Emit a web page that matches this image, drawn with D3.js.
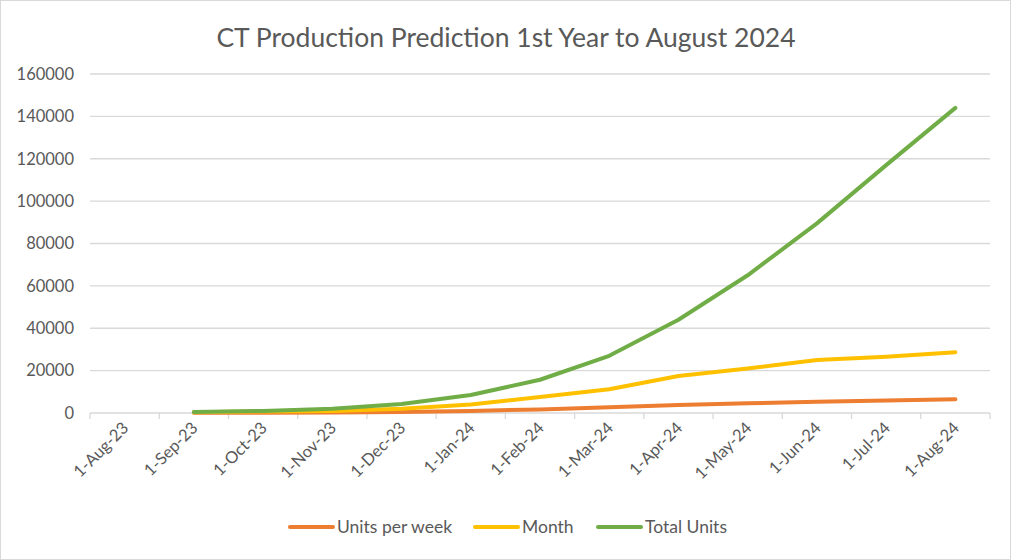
<!DOCTYPE html>
<html>
<head>
<meta charset="utf-8">
<script src="https://cdn.jsdelivr.net/npm/d3@7"></script>
<style>
  body { margin: 0; background: #fff; }
  text { font-family: Lato, "Open Sans", sans-serif; fill: #595959; }
</style>
</head>
<body>
<div id="chart"></div>
<script>
// chart size
const width = 1011,
  height = 560,
  margin = { top: 74, bottom: 147, left: 90, right: 21 };

// data
const months = ["1-Aug-23", "1-Sep-23", "1-Oct-23", "1-Nov-23", "1-Dec-23", "1-Jan-24",
  "1-Feb-24", "1-Mar-24", "1-Apr-24", "1-May-24", "1-Jun-24", "1-Jul-24", "1-Aug-24"];
const unitsPerWeek = [null, 100, 150, 250, 500, 1000, 1700, 2700, 3800, 4600, 5300, 5900, 6500];
const monthUnits = [null, 400, 700, 1000, 2000, 4000, 7600, 11200, 17500, 21000, 25000, 26600, 28700];
const totalUnits = [null, 500, 1000, 2000, 4200, 8500, 15700, 27000, 44000, 65000, 89500, 117000, 144000];
const yTicks = [0, 20000, 40000, 60000, 80000, 100000, 120000, 140000, 160000];

const seriesNames = ["Units per week", "Month", "Total Units"];
const seriesColors = ["#ED7D31", "#FFC000", "#70AD47"];
const series = [unitsPerWeek, monthUnits, totalUnits];

const svg = d3.select("#chart")
  .append("svg")
  .attr("width", width)
  .attr("height", height);

// chart border
svg.append("rect")
  .attr("x", 0.5).attr("y", 0.5)
  .attr("width", width - 1).attr("height", height - 1)
  .attr("fill", "#fff")
  .attr("stroke", "#d9d9d9");

const xScale = d3.scaleBand()
  .domain(months)
  .range([margin.left, width - margin.right]);

const yScale = d3.scaleLinear()
  .domain([0, 160000])
  .range([height - margin.bottom, margin.top]);

// gridlines
svg.append("g")
  .selectAll("line")
  .data(yTicks)
  .join("line")
  .attr("x1", margin.left)
  .attr("x2", width - margin.right)
  .attr("y1", d => yScale(d))
  .attr("y2", d => yScale(d))
  .attr("stroke", "#d9d9d9")
  .attr("stroke-width", 1.3);

// y labels
svg.append("g")
  .selectAll("text")
  .data(yTicks)
  .join("text")
  .attr("x", 74)
  .attr("y", d => yScale(d))
  .attr("dy", "0.35em")
  .attr("text-anchor", "end")
  .attr("font-size", 16.5)
  .text(d => d);

// x axis ticks at band edges
const tickPos = months.map(m => xScale(m)).concat([width - margin.right]);
svg.append("g")
  .selectAll("line")
  .data(tickPos)
  .join("line")
  .attr("x1", d => d).attr("x2", d => d)
  .attr("y1", yScale(0))
  .attr("y2", yScale(0) + 6)
  .attr("stroke", "#d9d9d9")
  .attr("stroke-width", 1.3);

// x labels, rotated
svg.append("g")
  .selectAll("text")
  .data(months)
  .join("text")
  .attr("text-anchor", "end")
  .attr("font-size", 16.5)
  .attr("transform", d => `translate(${xScale(d) + xScale.bandwidth() / 2 + 5},${yScale(0) + 16})rotate(-45)`)
  .text(d => d);

// lines
const lineFunction = d3.line()
  .defined(d => d != null)
  .x((d, i) => xScale(months[i]) + xScale.bandwidth() / 2)
  .y(d => yScale(d));

svg.append("g")
  .selectAll("path")
  .data(series)
  .join("path")
  .attr("d", d => lineFunction(d))
  .attr("fill", "none")
  .attr("stroke", (d, i) => seriesColors[i])
  .attr("stroke-width", 4)
  .attr("stroke-linecap", "round")
  .attr("stroke-linejoin", "round");

// title
svg.append("text")
  .attr("x", 506)
  .attr("y", 47)
  .attr("text-anchor", "middle")
  .attr("font-size", 26.5)
  .text("CT Production Prediction 1st Year to August 2024");

// legend
const legendX = [290, 475, 598];
const legend = svg.append("g")
  .selectAll("g")
  .data(seriesNames)
  .join("g")
  .attr("transform", (d, i) => `translate(${legendX[i]},527)`);

legend.append("line")
  .attr("x1", 0).attr("x2", 43)
  .attr("stroke", (d, i) => seriesColors[i])
  .attr("stroke-width", 4)
  .attr("stroke-linecap", "round");

legend.append("text")
  .attr("x", 47)
  .attr("dy", "0.35em")
  .attr("font-size", 17.5)
  .text(d => d);
</script>
</body>
</html>
